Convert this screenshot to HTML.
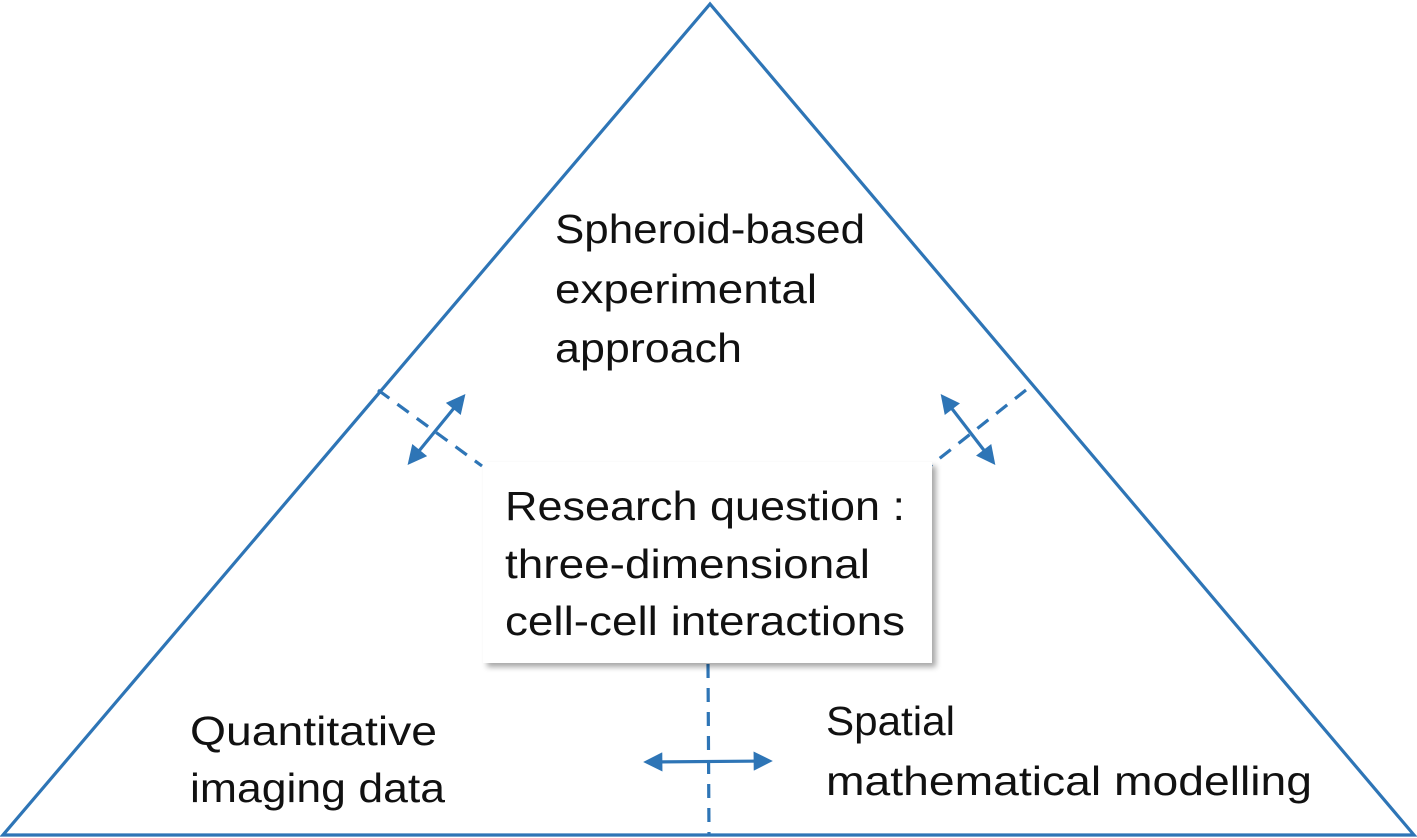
<!DOCTYPE html>
<html><head><meta charset="utf-8"><style>
html,body{margin:0;padding:0;background:#fff;}
svg{display:block;}
text{font-family:"Liberation Sans",sans-serif;font-size:41px;fill:#111;}
</style></head><body>
<svg width="1417" height="838" viewBox="0 0 1417 838" xmlns="http://www.w3.org/2000/svg">
<defs>
<marker id="ah" viewBox="0 0 10 10" refX="8" refY="5" markerWidth="6.5" markerHeight="6" orient="auto-start-reverse">
<path d="M0,0 L10,5 L0,10 z" fill="#2e75b6"/></marker>
<filter id="sh" x="-10%" y="-10%" width="125%" height="125%"><feGaussianBlur in="SourceAlpha" stdDeviation="3"/><feOffset dx="4" dy="4"/><feComponentTransfer><feFuncA type="linear" slope="0.35"/></feComponentTransfer><feMerge><feMergeNode/><feMergeNode in="SourceGraphic"/></feMerge></filter>
</defs>
<polygon points="710,4 3,835 1414,835" fill="none" stroke="#2e75b6" stroke-width="3.2"/>
<g stroke="#2e75b6" stroke-width="3.2" fill="none">
<line x1="378" y1="390" x2="482" y2="466" stroke-dasharray="14,10"/>
<line x1="1026" y1="390" x2="930" y2="466" stroke-dasharray="14,10"/>
<line x1="708" y1="664" x2="709" y2="835" stroke-dasharray="14,10"/>
<line x1="410" y1="462" x2="463" y2="397" marker-start="url(#ah)" marker-end="url(#ah)"/>
<line x1="943" y1="397" x2="993" y2="462" marker-start="url(#ah)" marker-end="url(#ah)"/>
<line x1="647" y1="762" x2="769" y2="761" marker-start="url(#ah)" marker-end="url(#ah)"/>
</g>
<rect x="483" y="462" width="449" height="201" fill="#fff" filter="url(#sh)"/>
<text x="555" y="243" textLength="310" lengthAdjust="spacingAndGlyphs">Spheroid-based</text>
<text x="555" y="303" textLength="262" lengthAdjust="spacingAndGlyphs">experimental</text>
<text x="555" y="362" textLength="187" lengthAdjust="spacingAndGlyphs">approach</text>
<text x="505" y="520" textLength="400" lengthAdjust="spacingAndGlyphs">Research question :</text>
<text x="505" y="578" textLength="365" lengthAdjust="spacingAndGlyphs">three-dimensional</text>
<text x="505" y="635" textLength="400" lengthAdjust="spacingAndGlyphs">cell-cell interactions</text>
<text x="190" y="745" textLength="247" lengthAdjust="spacingAndGlyphs">Quantitative</text>
<text x="190" y="802" textLength="255" lengthAdjust="spacingAndGlyphs">imaging data</text>
<text x="826" y="735" textLength="129" lengthAdjust="spacingAndGlyphs">Spatial</text>
<text x="826" y="795" textLength="486" lengthAdjust="spacingAndGlyphs">mathematical modelling</text>
</svg>
</body></html>
